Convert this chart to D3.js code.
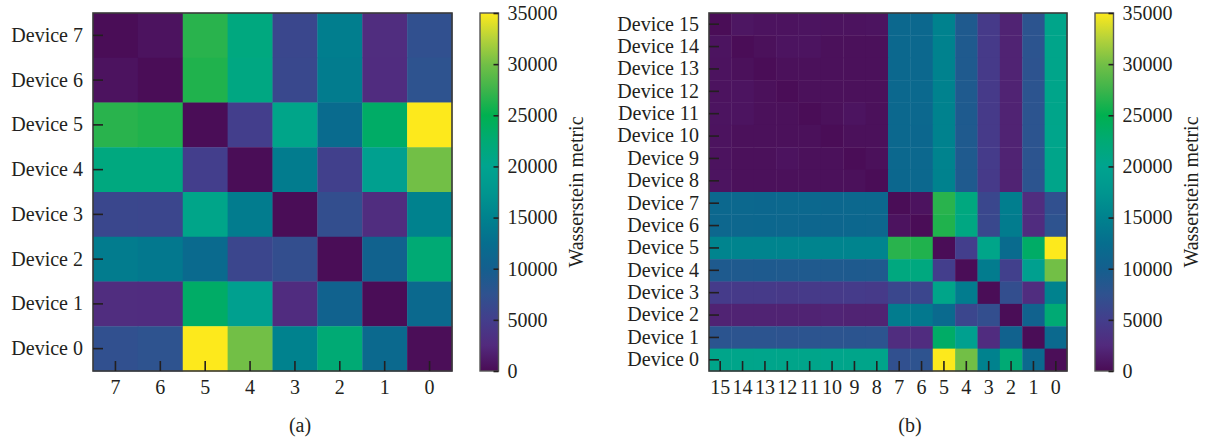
<!DOCTYPE html>
<html lang="en">
<head>
  <meta charset="UTF-8">
  <title>Wasserstein metric heatmaps</title>
  <style>
    body {
      margin: 0;
      background: #fff;
    }

    svg text {
      font-family: "Liberation Serif", "DejaVu Serif", serif;
      font-size: 20px;
      fill: #231f20;
    }

    .tick line {
      stroke: #231f20;
      stroke-width: 1.6;
    }
  </style>
</head>
<body>
  <svg id="chart" width="1208" height="443"></svg>

  <script src="https://d3js.org/d3.v7.min.js"></script>
  <script>
    // Column / row order as drawn (left-to-right and top-to-bottom)
    const orderA = [7, 6, 5, 4, 3, 2, 1, 0];
    const orderB = [15, 14, 13, 12, 11, 10, 9, 8, 7, 6, 5, 4, 3, 2, 1, 0];

    // Wasserstein metric, row = device i, column = device j (j = 0..7)
    const valuesA = [
      [200, 11600, 22500, 15000, 30000, 35000, 7600, 7200],
      [11600, 100, 10500, 2800, 19300, 23500, 2800, 2900],
      [22500, 10500, 100, 7000, 6000, 11800, 13800, 14200],
      [15000, 2900, 7000, 100, 14200, 20600, 6000, 6100],
      [30000, 19300, 5200, 14200, 100, 5000, 21500, 21500],
      [35000, 23500, 12000, 20600, 5000, 100, 26300, 26700],
      [7600, 2800, 14300, 6200, 21200, 26300, 100, 600],
      [7200, 2900, 14500, 6100, 21500, 26700, 600, 100]
    ];

    // 16 devices, row = device i, column = device j (j = 0..15)
    const valuesB = [
      [200, 11600, 22500, 15000, 30000, 35000, 7600, 7200, 20500, 20500, 20400, 20500, 20500, 20400, 20500, 20500],
      [11600, 100, 10500, 2800, 19300, 23500, 2800, 2900, 7800, 7900, 7800, 7800, 7700, 7800, 7800, 7900],
      [22500, 10500, 100, 7000, 6000, 11800, 13800, 14200, 1900, 1900, 2000, 1900, 1900, 1900, 1900, 1900],
      [15000, 2900, 7000, 100, 14200, 20600, 6000, 6100, 4500, 4600, 4500, 4500, 4400, 4500, 4500, 4600],
      [30000, 19300, 5200, 14200, 100, 5000, 21500, 21500, 9000, 9100, 9000, 9000, 9000, 9100, 9000, 9100],
      [35000, 23500, 12000, 20600, 5000, 100, 26300, 26700, 15200, 15200, 15300, 15200, 15200, 15300, 15200, 15200],
      [7600, 2800, 14300, 6200, 21200, 26300, 100, 600, 11300, 11400, 11200, 11200, 11300, 11400, 11300, 11300],
      [7200, 2900, 14500, 6100, 21500, 26700, 600, 100, 11500, 11500, 11400, 11500, 11500, 11400, 11500, 11500],
      [20500, 7800, 1900, 4500, 9000, 15000, 11500, 11400, 100, 400, 400, 400, 400, 400, 400, 700],
      [20500, 7800, 1900, 4600, 9000, 15100, 11500, 11500, 400, 100, 400, 400, 600, 400, 400, 600],
      [20400, 7800, 1900, 4500, 9000, 15000, 11400, 11500, 400, 400, 100, 400, 400, 400, 400, 600],
      [20500, 7800, 1900, 4500, 9100, 15000, 11500, 11500, 400, 700, 400, 100, 400, 400, 700, 700],
      [20500, 7800, 1900, 4500, 9000, 15000, 11600, 11500, 400, 400, 400, 400, 100, 400, 700, 600],
      [20500, 7700, 1900, 4500, 9000, 15000, 11500, 11500, 400, 400, 400, 400, 400, 100, 400, 600],
      [20500, 7800, 1900, 4500, 9000, 15000, 11500, 11500, 400, 400, 400, 700, 700, 400, 100, 700],
      [20500, 7800, 1900, 4500, 9000, 15000, 11500, 11500, 700, 600, 600, 700, 600, 600, 800, 100]
    ];

    const colorTicks = [0, 5000, 10000, 15000, 20000, 25000, 30000, 35000];

    // Colour map sampled from the reference colour bar
    const colorStops = [0, 2500, 5000, 7500, 10000, 12500, 15000, 17500, 20000, 22500, 25000, 27500, 30000, 32500, 35000];
    const colorHex = ["#4a0c55", "#522a7d", "#433e8c", "#2f528f", "#145f8e", "#066e8e", "#00828e", "#00968f",
                      "#00a48f", "#00aa74", "#00b050", "#3db44b", "#72bf46", "#b5d23a", "#fde91c"];

    const color = d3.scaleLinear().domain(colorStops).range(colorHex).interpolate(d3.interpolateRgb);

    const svg = d3.select("#chart");
    const plotTop = 13, plotBottom = 371;

    function drawPanel(p) {
      const g = svg.append("g");

      const x = d3.scaleBand().domain(p.order).range([p.left, p.right]);
      const y = d3.scaleBand().domain(p.order).range([plotTop, plotBottom]);

      // heat cells
      const cells = [];
      p.order.forEach(i => p.order.forEach(j => cells.push({ i, j, v: p.values[i][j] })));

      g.selectAll("rect.cell")
        .data(cells)
        .join("rect")
        .attr("class", "cell")
        .attr("x", d => x(d.j))
        .attr("y", d => y(d.i))
        .attr("width", x.bandwidth() + 0.4)
        .attr("height", y.bandwidth() + 0.4)
        .attr("fill", d => color(d.v));

      // frame
      g.append("rect")
        .attr("x", p.left)
        .attr("y", plotTop)
        .attr("width", p.right - p.left)
        .attr("height", plotBottom - plotTop)
        .attr("fill", "none")
        .attr("stroke", "#3a3a3a")
        .attr("stroke-width", 1.6);

      // axes with inward ticks
      const yAxis = g.append("g")
        .attr("transform", `translate(${p.left},0)`)
        .call(d3.axisLeft(y).tickSize(-10).tickSizeOuter(0).tickPadding(10).tickFormat(d => "Device " + d));
      yAxis.select(".domain").remove();

      const xAxis = g.append("g")
        .attr("transform", `translate(0,${plotBottom})`)
        .call(d3.axisBottom(x).tickSize(-10).tickSizeOuter(0).tickPadding(9));
      xAxis.select(".domain").remove();

      g.selectAll(".tick text").attr("fill", "#231f20").attr("font-size", null).attr("font-family", null);

      // colour bar
      const c = d3.scaleLinear().domain([0, 35000]).range([plotBottom, plotTop]);
      const gradId = "grad" + p.id;
      const grad = svg.append("defs").append("linearGradient")
        .attr("id", gradId)
        .attr("x1", 0).attr("y1", 1).attr("x2", 0).attr("y2", 0);
      colorStops.forEach((s, k) => {
        grad.append("stop").attr("offset", s / 35000).attr("stop-color", colorHex[k]);
      });

      g.append("rect")
        .attr("x", p.barLeft)
        .attr("y", plotTop)
        .attr("width", p.barWidth)
        .attr("height", plotBottom - plotTop)
        .attr("fill", `url(#${gradId})`)
        .attr("stroke", "#555")
        .attr("stroke-width", 1.4);

      const cAxis = g.append("g")
        .attr("transform", `translate(${p.barLeft + p.barWidth},0)`)
        .call(d3.axisRight(c).tickValues(colorTicks).tickSize(-5).tickSizeOuter(0).tickPadding(9).tickFormat(d3.format("d")));
      cAxis.select(".domain").remove();
      cAxis.selectAll("text").attr("font-size", null).attr("font-family", null).attr("fill", "#231f20");

      g.append("text")
        .attr("transform", `translate(${p.labelX},${(plotTop + plotBottom) / 2}) rotate(-90)`)
        .attr("text-anchor", "middle")
        .text("Wasserstein metric");

      g.append("text")
        .attr("x", p.captionX)
        .attr("y", 432)
        .attr("text-anchor", "middle")
        .text(p.caption);
    }

    drawPanel({
      id: "a", order: orderA, values: valuesA,
      left: 93, right: 452,
      barLeft: 480, barWidth: 18.5, labelX: 583,
      captionX: 300, caption: "(a)"
    });

    drawPanel({
      id: "b", order: orderB, values: valuesB,
      left: 709, right: 1067,
      barLeft: 1095, barWidth: 18.5, labelX: 1198,
      captionX: 910, caption: "(b)"
    });
  </script>
</body>
</html>
